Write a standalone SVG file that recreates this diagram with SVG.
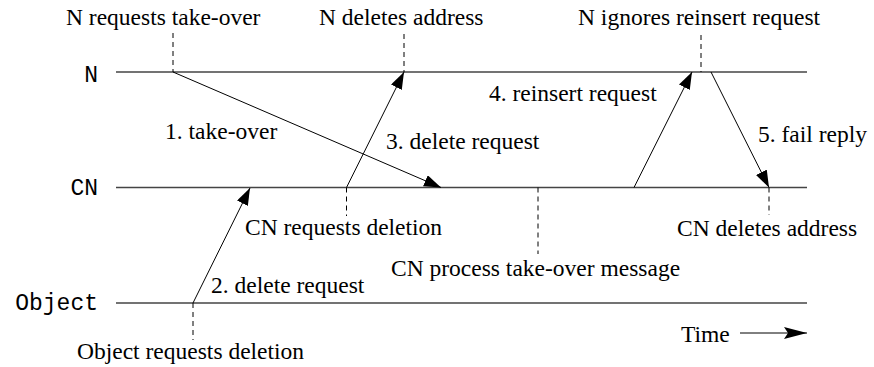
<svg xmlns="http://www.w3.org/2000/svg" width="874" height="367" viewBox="0 0 874 367">
<defs>
<style>
.t{font-family:"Liberation Serif","Times New Roman",serif;font-size:23.5px;fill:#000}
.m{font-family:"Liberation Mono","Courier New",monospace;font-size:23px;fill:#000;text-anchor:end}
.tl{stroke:#444;stroke-width:1.3;fill:none}
.ar{stroke:#000;stroke-width:1;fill:none;marker-end:url(#ah)}
.dl{stroke:#000;stroke-width:1;stroke-dasharray:5,4;fill:none}
</style>
<marker id="ah" markerUnits="userSpaceOnUse" markerWidth="20" markerHeight="14" refX="17" refY="6" orient="auto">
<path d="M0,0 L17,6 L0,12 Z" fill="#000"/>
</marker>
<marker id="ah2" markerUnits="userSpaceOnUse" markerWidth="26" markerHeight="14" refX="23" refY="6" orient="auto">
<path d="M0,0 L23,6 L0,12 L4,6 Z" fill="#000"/>
</marker>
</defs>
<rect width="874" height="367" fill="#fff"/>

<g id="lane-N">
<text class="m" x="98" y="82">N</text>
<line class="tl" x1="116" y1="72" x2="807" y2="72"/>
</g>
<g id="lane-CN">
<text class="m" x="98" y="195">CN</text>
<line class="tl" x1="116" y1="187.5" x2="807" y2="187.5"/>
</g>
<g id="lane-Object">
<text class="m" x="98" y="310">Object</text>
<line class="tl" x1="116" y1="303" x2="807" y2="303"/>
</g>

<g id="events">
<g id="ev-n-takeover">
<line class="dl" x1="173" y1="33" x2="173" y2="72"/>
<text class="t" x="66" y="25">N requests take-over</text>
</g>
<g id="ev-n-deletes">
<line class="dl" x1="404" y1="34" x2="404" y2="72"/>
<text class="t" x="319" y="25">N deletes address</text>
</g>
<g id="ev-n-ignores">
<line class="dl" x1="701" y1="35" x2="701" y2="72"/>
<text class="t" x="578" y="25">N ignores reinsert request</text>
</g>
<g id="ev-cn-requests">
<line class="dl" x1="346.5" y1="187.5" x2="346.5" y2="216"/>
<text class="t" x="245" y="235">CN requests deletion</text>
</g>
<g id="ev-cn-process">
<line class="dl" x1="538" y1="187.5" x2="538" y2="254"/>
<text class="t" x="391" y="276">CN process take-over message</text>
</g>
<g id="ev-cn-deletes">
<line class="dl" x1="769" y1="187.5" x2="769" y2="215"/>
<text class="t" x="677" y="236">CN deletes address</text>
</g>
<g id="ev-obj-requests">
<line class="dl" x1="193" y1="303" x2="193" y2="340"/>
<text class="t" x="77" y="359">Object requests deletion</text>
</g>
</g>

<g id="connectors">
<line class="ar" x1="173" y1="72" x2="441" y2="187.5"/>
<line class="ar" x1="193" y1="303" x2="250" y2="188"/>
<line class="ar" x1="346.5" y1="187.5" x2="404" y2="72"/>
<line class="ar" x1="634" y1="187.5" x2="692" y2="72"/>
<line class="ar" x1="711" y1="72" x2="769" y2="187.5"/>
<line x1="740" y1="333" x2="807" y2="333" stroke="#000" stroke-width="1" marker-end="url(#ah2)"/>
</g>

<g id="labels">
<text class="t" x="165" y="139">1. take-over</text>
<text class="t" x="211" y="293">2. delete request</text>
<text class="t" x="386" y="149">3. delete request</text>
<text class="t" x="489" y="101">4. reinsert request</text>
<text class="t" x="758" y="142">5. fail reply</text>
<text class="t" x="681" y="342">Time</text>
</g>
</svg>
